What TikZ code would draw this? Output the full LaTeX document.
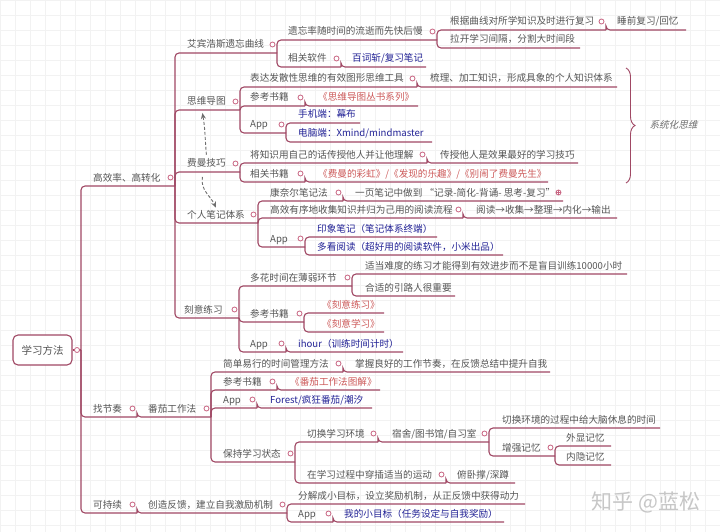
\documentclass[tikz,border=0pt]{standalone}
\usepackage{fontspec}
\setmainfont{Noto Sans CJK SC}
\newfontfamily\slfont[FakeSlant=0.25]{Noto Sans CJK SC}
\usepackage{tikz}
\usetikzlibrary{arrows.meta,calc,decorations.pathreplacing}
\usepackage{xcolor}

\definecolor{linecol}{RGB}{160,72,100}
\definecolor{knobcol}{RGB}{200,100,130}
\definecolor{txtcol}{RGB}{85,85,85}
\definecolor{appcol}{RGB}{35,35,150}
\definecolor{bookcol}{RGB}{205,90,90}
\definecolor{gridcol}{RGB}{242,242,242}
\definecolor{relcol}{RGB}{110,110,110}

\begin{document}
\begin{tikzpicture}[x=1pt, y=-1pt,
	txt/.style={text=txtcol, font=\fontsize{9.6}{11}\selectfont, inner sep=0pt},
	apptxt/.style={txt, text=appcol},
	booktxt/.style={txt, text=bookcol},
	knob/.style={circle, draw=knobcol, fill=white, line width=0.8pt, inner sep=0pt, minimum size=5pt},
	link/.style={draw=linecol, line width=1.1pt, rounded corners=4pt},
	rel/.style={draw=relcol, line width=0.9pt, dash pattern=on 3pt off 2pt, -{Stealth[length=6pt,width=5pt]}}]

			% topic: style, name, text x, line y, line end x, text
			\def\topic#1#2#3#4#5#6{
				\node[#1, anchor=base west] (#2) at (#3,#4-5) {#6};
				\coordinate (#2-e) at (#5,#4);
			}

			\useasboundingbox (0,0) rectangle (720,532);

			% background grid
			\fill[white] (0,0) rectangle (720,532);
			\foreach \gx in {0,15,...,720}
				\draw[gridcol, line width=0.4pt] (\gx,0) -- (\gx,532);
			\foreach \gy in {0,15,...,525}
				\draw[gridcol, line width=0.4pt] (0,\gy) -- (720,\gy);

			% root
			\node[draw=linecol, line width=1.1pt, rounded corners=5pt, fill=white, minimum width=59pt,
				minimum height=30pt, text=txtcol, font=\fontsize{10.5}{12}\selectfont] (root) at (42.5,350) {学习方法};
			\coordinate (root-e) at (81,350);

			% first level
			\topic{txt}{hg}{93}{186}{175}{高效率、高转化}
			\topic{txt}{zj}{93}{417}{137}{找节奏}
			\topic{txt}{fq}{148}{417}{211}{番茄工作法}
			\topic{txt}{kc}{93}{513}{137}{可持续}
			\topic{txt}{cz}{148}{513}{287}{创造反馈，建立自我激励机制}

			% ebbinghaus
			\topic{txt}{ab}{187}{53}{277}{艾宾浩斯遗忘曲线}
			\topic{txt}{ab1}{288}{40}{437}{遗忘率随时间的流逝而先快后慢}
			\topic{txt}{ab11}{450}{30}{606}{根据曲线对所学知识及时进行复习}
			\topic{txt}{ab111}{617}{30}{686}{睡前复习/回忆}
			\topic{txt}{ab12}{450}{48}{580}{拉开学习间隔，分割大时间段}
			\topic{txt}{ab2}{288}{67}{341}{相关软件}
			\topic{apptxt}{ab21}{352}{67}{426}{百词斩/复习笔记}

			% mind map
			\topic{txt}{sw}{187}{110}{240}{思维导图}
			\topic{txt}{sw1}{250}{87}{417}{表达发散性思维的有效图形思维工具}
			\topic{txt}{sw11}{430}{87}{617}{梳理、加工知识，形成具象的个人知识体系}
			\topic{txt}{sw2}{250}{106}{305}{参考书籍}
			\topic{booktxt}{sw21}{318}{106}{418}{《思维导图丛书系列》}
			\topic{txt}{sw3}{250}{133}{286}{App}
			\topic{apptxt}{sw31}{298}{123}{360}{手机端：幕布}
			\topic{apptxt}{sw32}{298}{142}{432}{电脑端：Xmind/mindmaster}

			% feynman
			\topic{txt}{fm}{187}{172}{240}{费曼技巧}
			\topic{txt}{fm1}{250}{163}{427}{将知识用自己的话传授他人并让他理解}
			\topic{txt}{fm11}{440}{163}{578}{传授他人是效果最好的学习技巧}
			\topic{txt}{fm2}{250}{182}{305}{相关书籍}
			\topic{booktxt}{fm21}{318}{182}{548}{《费曼的彩虹》/《发现的乐趣》/《别闹了费曼先生》}

			% notes
			\topic{txt}{gr}{187}{223}{258}{个人笔记体系}
			\topic{txt}{gr1}{270}{201}{343}{康奈尔笔记法}
			\topic{txt}{gr11}{355}{201}{563}{一页笔记中做到 “记录-简化-背诵- 思考-复习”}
			\topic{txt}{gr2}{270}{218}{463}{高效有序地收集知识并归为己用的阅读流程}
			\topic{txt}{gr21}{476}{218}{617}{阅读→收集→整理→内化→输出}
			\topic{txt}{gr3}{270}{247}{305}{App}
			\topic{apptxt}{gr31}{317}{237}{437}{印象笔记（笔记体系终端）}
			\topic{apptxt}{gr32}{317}{255}{503}{多看阅读（超好用的阅读软件，小米出品）}

			% deliberate practice
			\topic{txt}{ky}{184}{318}{239}{刻意练习}
			\topic{txt}{ky1}{250}{286}{352}{多花时间在薄弱环节}
			\topic{txt}{ky11}{365}{274}{627}{适当难度的练习才能得到有效进步而不是盲目训练10000小时}
			\topic{txt}{ky12}{365}{296}{455}{合适的引路人很重要}
			\topic{txt}{ky2}{250}{322}{304}{参考书籍}
			\topic{booktxt}{ky21}{322}{313}{384}{《刻意练习》}
			\topic{booktxt}{ky22}{322}{332}{384}{《刻意学习》}
			\topic{txt}{ky3}{250}{352}{286}{App}
			\topic{apptxt}{ky31}{298}{352}{403}{ihour（训练时间计时）}

			% pomodoro
			\topic{txt}{fq1}{223}{372}{343}{简单易行的时间管理方法}
			\topic{txt}{fq11}{355}{372}{550}{掌握良好的工作节奏，在反馈总结中提升自我}
			\topic{txt}{fq2}{223}{390}{277}{参考书籍}
			\topic{booktxt}{fq21}{290}{390}{380}{《番茄工作法图解》}
			\topic{txt}{fq3}{223}{408}{257}{App}
			\topic{apptxt}{fq31}{270}{408}{372}{Forest/疯狂番茄/潮汐}
			\topic{txt}{fq4}{223}{462}{295}{保持学习状态}
			\topic{txt}{fq41}{307}{442}{378}{切换学习环境}
			\topic{txt}{fq411}{392}{442}{489}{宿舍/图书馆/自习室}
			\topic{txt}{fq4111}{502}{428}{660}{切换环境的过程中给大脑休息的时间}
			\topic{txt}{fq4112}{502}{456}{555}{增强记忆}
			\topic{txt}{fq41121}{566}{446}{611}{外显记忆}
			\topic{txt}{fq41122}{566}{465}{611}{内隐记忆}
			\topic{txt}{fq42}{307}{483}{446}{在学习过程中穿插适当的运动}
			\topic{txt}{fq421}{457}{483}{515}{俯卧撑/深蹲}

			% sustain
			\topic{txt}{cz1}{298}{504}{525}{分解成小目标，设立奖励机制，从正反馈中获得动力}
			\topic{txt}{cz2}{298}{522}{333}{App}
			\topic{apptxt}{cz21}{344}{522}{504}{我的小目标（任务设定与自我奖励）}

			% connectors
			\draw[link] (root.east) -- (root-e);
			\foreach \p/\c in {root/hg, root/zj, root/kc, zj/fq, kc/cz,
				hg/ab, hg/sw, hg/fm, hg/gr, hg/ky,
				ab/ab1, ab/ab2, ab1/ab11, ab1/ab12, ab11/ab111, ab2/ab21,
				sw/sw1, sw/sw2, sw/sw3, sw1/sw11, sw2/sw21, sw3/sw31, sw3/sw32,
				fm/fm1, fm/fm2, fm1/fm11, fm2/fm21,
				gr/gr1, gr/gr2, gr/gr3, gr1/gr11, gr2/gr21, gr3/gr31, gr3/gr32,
				ky/ky1, ky/ky2, ky/ky3, ky1/ky11, ky1/ky12, ky2/ky21, ky2/ky22, ky3/ky31,
				fq/fq1, fq/fq2, fq/fq3, fq/fq4, fq1/fq11, fq2/fq21, fq3/fq31,
				fq4/fq41, fq4/fq42, fq41/fq411, fq411/fq4111, fq411/fq4112,
				fq4112/fq41121, fq4112/fq41122, fq42/fq421,
				cz/cz1, cz/cz2, cz2/cz21}
				\draw[link] (\p-e) |- (\c-e);

			% collapse knobs
			\node[knob] (root-o) at (77,350) {};
			\foreach \k in {hg, zj, fq, kc, cz, ab, ab1, ab11, ab2, sw, sw1, sw2, sw3,
				fm, fm1, fm2, gr, gr1, gr2, gr3, ky, ky1, ky2, ky3,
				fq1, fq2, fq3, fq4, fq41, fq411, fq4112, fq42, cz2}
				\node[knob] (\k-o) at ($(\k-e)+(-4.5,-8.5)$) {};
			\node[knob] (gr11-o) at ($(gr11-e)+(-4.5,-8.5)$) {};
			\draw[knobcol, line width=0.6pt] (gr11-o.west) -- (gr11-o.east);
			\draw[knobcol, line width=0.6pt] (gr11-o.north) -- (gr11-o.south);

			% relationships
			\draw[rel] ([yshift=4pt]fm.north) to[out=95,in=-80] ([xshift=-4pt,yshift=-7pt]sw.south);
			\draw[rel] ([xshift=-4pt,yshift=-9pt]fm.south) to[out=-100,in=115] ([yshift=2pt]gr.north);

			% summary brace
			\coordinate (brace-t) at (626,68);
			\coordinate (brace-b) at (626,183);
			\draw[linecol, line width=0.9pt, decorate, decoration={brace, amplitude=9pt}] (brace-t) -- (brace-b);
			\node[text=relcol, font=\slfont\fontsize{9.6}{11}\selectfont, anchor=west] (sys) at (646,125) {系统化思维};

			% watermark
			\node[text=black!22, font=\fontsize{21}{24}\selectfont] (wm) at (646,502) {知乎 @蓝松};

		\end{tikzpicture}
\end{document}
